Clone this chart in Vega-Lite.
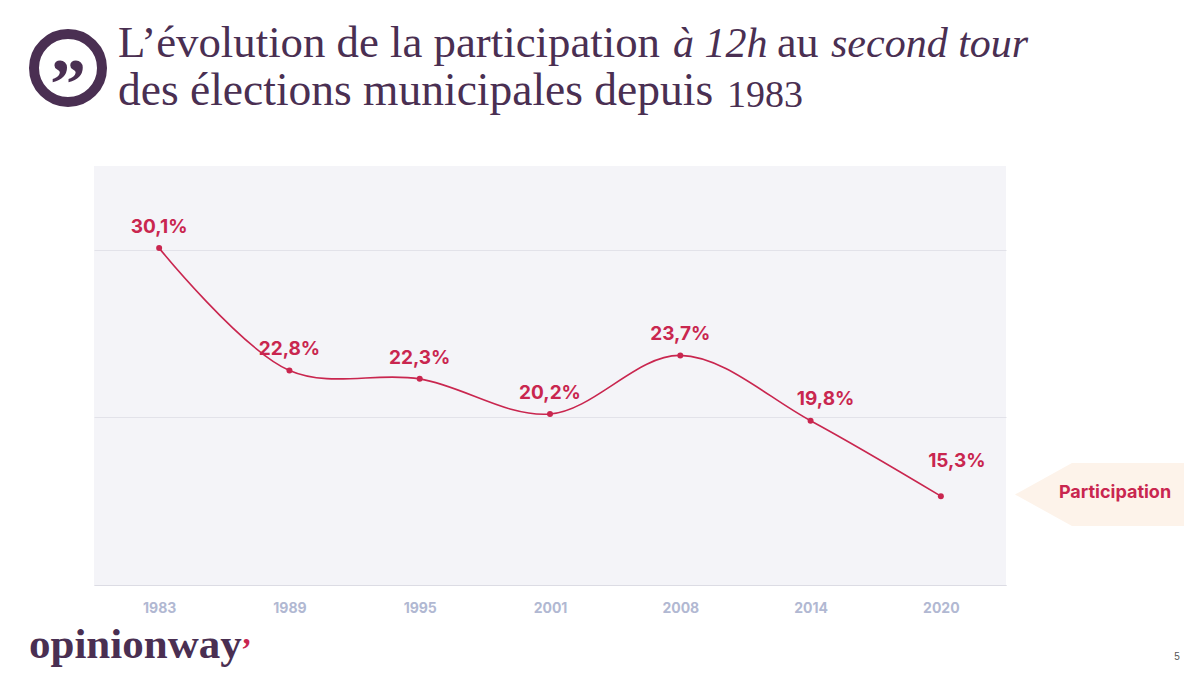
{
  "$schema": "https://vega.github.io/schema/vega-lite/v6.json",
  "width": 912,
  "height": 419,
  "autosize": "none",
  "padding": {"left": 94, "top": 166, "right": 194, "bottom": 90},
  "background": "white",
  "view": {"fill": "#f4f4f8", "stroke": null},
  "config": {"text": {"font": "Inter"}},
  "layer": [
    {
      "data": {
        "values": [
          {"annee": "1983", "participation": 30.1, "label": "30,1%"},
          {"annee": "1989", "participation": 22.8, "label": "22,8%"},
          {"annee": "1995", "participation": 22.3, "label": "22,3%"},
          {"annee": "2001", "participation": 20.2, "label": "20,2%"},
          {"annee": "2008", "participation": 23.7, "label": "23,7%"},
          {"annee": "2014", "participation": 19.8, "label": "19,8%"},
          {"annee": "2020", "participation": 15.3, "label": "15,3%"}
        ]
      },
      "encoding": {
        "x": {
          "field": "annee",
          "type": "ordinal",
          "title": null,
          "scale": {"type": "point", "padding": 0.5},
          "axis": {
            "labelAngle": 0,
            "labelColor": "#b1b8d2",
            "labelFont": "Inter",
            "labelFontWeight": "bold",
            "labelFontSize": 14,
            "labelPadding": 16,
            "ticks": false,
            "domainColor": "#dcdce4",
            "domainWidth": 1
          }
        },
        "y": {
          "field": "participation",
          "type": "quantitative",
          "title": null,
          "scale": {"domain": [10, 35], "nice": false, "zero": false},
          "axis": {
            "values": [10, 20, 30],
            "labels": false,
            "ticks": false,
            "domain": false,
            "gridColor": "#e2e2e9",
            "gridWidth": 1
          }
        }
      },
      "layer": [
        {"mark": {"type": "line", "interpolate": "catmull-rom", "color": "#c9264f", "strokeWidth": 1.6}},
        {"mark": {"type": "point", "filled": true, "opacity": 1, "color": "#c9264f", "size": 36}},
        {
          "transform": [{"filter": {"field": "annee", "oneOf": ["1983", "1989", "1995", "2001", "2008"]}}],
          "mark": {"type": "text", "color": "#c9264f", "fontWeight": "bold", "fontSize": 19, "dy": -21, "font": "Inter"},
          "encoding": {"text": {"field": "label"}}
        },
        {
          "transform": [{"filter": {"field": "annee", "equal": "2014"}}],
          "mark": {"type": "text", "color": "#c9264f", "fontWeight": "bold", "fontSize": 19, "dx": 15, "dy": -22, "font": "Inter"},
          "encoding": {"text": {"field": "label"}}
        },
        {
          "transform": [{"filter": {"field": "annee", "equal": "2020"}}],
          "mark": {"type": "text", "color": "#c9264f", "fontWeight": "bold", "fontSize": 19, "dx": 16, "dy": -35, "font": "Inter"},
          "encoding": {"text": {"field": "label"}}
        }
      ]
    },
    {
      "layer": [
        {
          "data": {"values": [{"forme": "Participation"}]},
          "mark": {
            "type": "point",
            "filled": true,
            "opacity": 1,
            "color": "#fdf3ea",
            "size": 40000,
            "shape": "M-0.85,0L-0.28,-0.315L0.84,-0.315L0.84,0.315L-0.28,0.315Z"
          },
          "encoding": {
            "x": {"datum": 1100, "scale": {"domain": [94, 1006], "nice": false, "zero": false}, "axis": null},
            "y": {"datum": 494.5, "scale": {"domain": [166, 585], "reverse": true, "nice": false, "zero": false}, "axis": null}
          }
        },
        {
          "data": {"values": [{"texte": "Participation"}]},
          "mark": {"type": "text", "color": "#c9264f", "fontWeight": "bold", "fontSize": 18, "align": "center", "font": "Inter"},
          "encoding": {
            "x": {"datum": 1115, "scale": {"domain": [94, 1006], "nice": false, "zero": false}, "axis": null},
            "y": {"datum": 493, "scale": {"domain": [166, 585], "reverse": true, "nice": false, "zero": false}, "axis": null},
            "text": {"field": "texte"}
          }
        },
        {
          "data": {"values": [{"texte": "L’évolution de la participation"}]},
          "mark": {"type": "text", "color": "#4a2f52", "fontSize": 44.8, "align": "left", "baseline": "alphabetic", "font": "Liberation Serif"},
          "encoding": {
            "x": {"datum": 118, "scale": {"domain": [94, 1006], "nice": false, "zero": false}, "axis": null},
            "y": {"datum": 57, "scale": {"domain": [166, 585], "reverse": true, "nice": false, "zero": false}, "axis": null},
            "text": {"field": "texte"}
          }
        },
        {
          "data": {"values": [{"texte": "à 12h"}]},
          "mark": {"type": "text", "color": "#4a2f52", "fontSize": 42, "fontStyle": "italic", "align": "left", "baseline": "alphabetic", "font": "Liberation Serif"},
          "encoding": {
            "x": {"datum": 673, "scale": {"domain": [94, 1006], "nice": false, "zero": false}, "axis": null},
            "y": {"datum": 57, "scale": {"domain": [166, 585], "reverse": true, "nice": false, "zero": false}, "axis": null},
            "text": {"field": "texte"}
          }
        },
        {
          "data": {"values": [{"texte": "au"}]},
          "mark": {"type": "text", "color": "#4a2f52", "fontSize": 44, "align": "left", "baseline": "alphabetic", "font": "Liberation Serif"},
          "encoding": {
            "x": {"datum": 777, "scale": {"domain": [94, 1006], "nice": false, "zero": false}, "axis": null},
            "y": {"datum": 57, "scale": {"domain": [166, 585], "reverse": true, "nice": false, "zero": false}, "axis": null},
            "text": {"field": "texte"}
          }
        },
        {
          "data": {"values": [{"texte": "second tour"}]},
          "mark": {"type": "text", "color": "#4a2f52", "fontSize": 42, "fontStyle": "italic", "align": "left", "baseline": "alphabetic", "font": "Liberation Serif"},
          "encoding": {
            "x": {"datum": 831, "scale": {"domain": [94, 1006], "nice": false, "zero": false}, "axis": null},
            "y": {"datum": 57, "scale": {"domain": [166, 585], "reverse": true, "nice": false, "zero": false}, "axis": null},
            "text": {"field": "texte"}
          }
        },
        {
          "data": {"values": [{"texte": "des élections municipales depuis"}]},
          "mark": {"type": "text", "color": "#4a2f52", "fontSize": 45.5, "align": "left", "baseline": "alphabetic", "font": "Liberation Serif"},
          "encoding": {
            "x": {"datum": 118, "scale": {"domain": [94, 1006], "nice": false, "zero": false}, "axis": null},
            "y": {"datum": 105, "scale": {"domain": [166, 585], "reverse": true, "nice": false, "zero": false}, "axis": null},
            "text": {"field": "texte"}
          }
        },
        {
          "data": {"values": [{"texte": "1983"}]},
          "mark": {"type": "text", "color": "#4a2f52", "fontSize": 38, "align": "left", "baseline": "alphabetic", "font": "Liberation Serif"},
          "encoding": {
            "x": {"datum": 727, "scale": {"domain": [94, 1006], "nice": false, "zero": false}, "axis": null},
            "y": {"datum": 107, "scale": {"domain": [166, 585], "reverse": true, "nice": false, "zero": false}, "axis": null},
            "text": {"field": "texte"}
          }
        },
        {
          "data": {"values": [{"forme": "anneau"}]},
          "mark": {"type": "point", "shape": "circle", "filled": false, "opacity": 1, "color": "#4a2f52", "strokeWidth": 10, "size": 4624},
          "encoding": {
            "x": {"datum": 68, "scale": {"domain": [94, 1006], "nice": false, "zero": false}, "axis": null},
            "y": {"datum": 68, "scale": {"domain": [166, 585], "reverse": true, "nice": false, "zero": false}, "axis": null}
          }
        },
        {
          "data": {"values": [{"texte": "”"}]},
          "mark": {"type": "text", "color": "#4a2f52", "fontSize": 72, "fontWeight": "bold", "align": "center", "baseline": "alphabetic", "font": "Liberation Serif"},
          "encoding": {
            "x": {"datum": 68, "scale": {"domain": [94, 1006], "nice": false, "zero": false}, "axis": null},
            "y": {"datum": 108, "scale": {"domain": [166, 585], "reverse": true, "nice": false, "zero": false}, "axis": null},
            "text": {"field": "texte"}
          }
        },
        {
          "data": {"values": [{"texte": "opinionway"}]},
          "mark": {"type": "text", "color": "#4a2f52", "fontSize": 43, "fontWeight": "bold", "align": "left", "baseline": "alphabetic", "font": "Liberation Serif"},
          "encoding": {
            "x": {"datum": 29, "scale": {"domain": [94, 1006], "nice": false, "zero": false}, "axis": null},
            "y": {"datum": 658, "scale": {"domain": [166, 585], "reverse": true, "nice": false, "zero": false}, "axis": null},
            "text": {"field": "texte"}
          }
        },
        {
          "data": {"values": [{"texte": "’"}]},
          "mark": {"type": "text", "color": "#c9264f", "fontSize": 32, "fontWeight": "bold", "align": "left", "baseline": "alphabetic", "font": "Liberation Serif"},
          "encoding": {
            "x": {"datum": 241, "scale": {"domain": [94, 1006], "nice": false, "zero": false}, "axis": null},
            "y": {"datum": 660, "scale": {"domain": [166, 585], "reverse": true, "nice": false, "zero": false}, "axis": null},
            "text": {"field": "texte"}
          }
        },
        {
          "data": {"values": [{"texte": "5"}]},
          "mark": {"type": "text", "color": "#555555", "fontSize": 10, "align": "center", "font": "Liberation Sans"},
          "encoding": {
            "x": {"datum": 1177, "scale": {"domain": [94, 1006], "nice": false, "zero": false}, "axis": null},
            "y": {"datum": 657, "scale": {"domain": [166, 585], "reverse": true, "nice": false, "zero": false}, "axis": null},
            "text": {"field": "texte"}
          }
        }
      ]
    }
  ],
  "resolve": {"scale": {"x": "independent", "y": "independent"}}
}
